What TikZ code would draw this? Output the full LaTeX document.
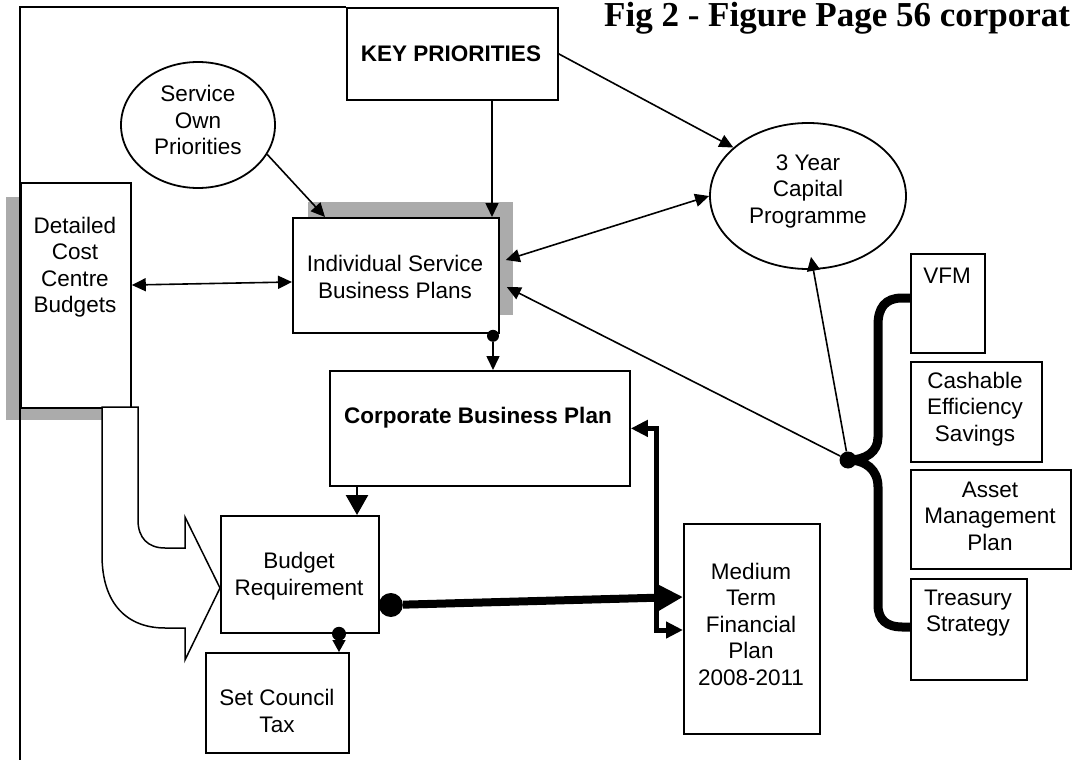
\documentclass[tikz,border=0pt]{standalone}
\usepackage{fontspec}
\setmainfont{Liberation Sans}
\newfontfamily\titleserif{Liberation Serif}
\usetikzlibrary{arrows.meta,shapes.geometric,calc}
\newcommand\diagfont{\fontsize{22.5}{26.5}\selectfont}

\begin{document}
\begin{tikzpicture}[x=1pt,y=-1pt,
  box/.style={draw, line width=1.8pt, fill=white, inner sep=0pt, anchor=north west},
  oval/.style={draw, ellipse, line width=1.8pt, fill=white, inner sep=0pt},
  txt/.style={font=\diagfont, align=center, inner sep=0pt},
  shadowfill/.style={fill=black!33, draw=none},
  arr/.style={line width=1.6pt, -{Triangle[length=14pt,width=13pt]}},
  dbl/.style={line width=1.6pt, {Triangle[length=14pt,width=13pt]}-{Triangle[length=14pt,width=13pt]}},
  dot/.style={circle, fill=black, inner sep=0pt},
]

\useasboundingbox (0,0) rectangle (1072,760);

% heading
\node[anchor=base west, inner sep=0pt, font=\titleserif\bfseries\fontsize{35}{40}\selectfont]
  (title) at (604,27) {Fig 2 - Figure Page 56 corporat};

% drop shadows
\fill[shadowfill] (6,197) rectangle (115,420);
\fill[shadowfill] (308,202) rectangle (513,315);

% outer frame
\draw[line width=1.8pt] (20,760) -- (20,7) -- (346,7);

% boxes
\node[box, minimum width=211pt, minimum height=92pt]  (key)   at (346,7)   {};
\node[box, minimum width=110pt, minimum height=225pt] (det)   at (20,182)  {};
\node[box, minimum width=206pt, minimum height=115pt] (isbp)  at (292,217) {};
\node[box, minimum width=300pt, minimum height=115pt] (cbp)   at (329,370) {};
\node[box, minimum width=158pt, minimum height=117pt] (bud)   at (220,515) {};
\node[box, minimum width=143pt, minimum height=100pt] (stc)   at (205,652) {};
\node[box, minimum width=136pt, minimum height=210pt] (mtfp)  at (683,523) {};
\node[box, minimum width=74pt,  minimum height=99pt]  (vfm)   at (910,253) {};
\node[box, minimum width=131pt, minimum height=100pt] (cash)  at (910,361) {};
\node[box, minimum width=160pt, minimum height=99pt]  (asset) at (910,469) {};
\node[box, minimum width=116pt, minimum height=101pt] (treas) at (910,578) {};

% ovals
\node[oval, minimum width=154pt, minimum height=126pt] (sop) at (198,125) {};
\node[oval, minimum width=196pt, minimum height=146pt] (cap) at (808,196) {};

% labels
\node[txt, font=\diagfont\bfseries] (key-t) at (451,54) {KEY PRIORITIES};
\node[txt] (sop-t)   at (198,120) {Service\\Own\\Priorities};
\node[txt] (cap-t)   at (808,191) {3 Year\\Capital\\Programme};
\node[txt] (det-t)   at (75,267)  {Detailed\\Cost\\Centre\\Budgets};
\node[txt] (isbp-t)  at (395,277) {Individual Service\\Business Plans};
\node[txt, font=\diagfont\bfseries] (cbp-t) at (478,418) {Corporate Business Plan};
\node[txt] (bud-t)   at (299,576) {Budget\\Requirement};
\node[txt] (stc-t)   at (277,711) {Set Council\\Tax};
\node[txt] (mtfp-t)  at (751,624) {Medium\\Term\\Financial\\Plan\\2008-2011};
\node[txt] (vfm-t)   at (947,276) {VFM};
\node[txt] (cash-t)  at (975,409) {Cashable\\Efficiency\\Savings};
\node[txt] (asset-t) at (990,516) {Asset\\Management\\Plan};
\node[txt] (treas-t) at (968,613) {Treasury\\Strategy};

% hollow bent arrow from the cost centre budgets into the budget requirement
\draw[line width=1.5pt, fill=white]
  (102,407) -- (102,555) .. controls (102,605) and (128,628) .. (165,628)
  -- (185,628) -- (185,660) -- (220,588) -- (185,517) -- (185,548)
  -- (165,548) .. controls (148,548) and (138,538) .. (138,520)
  -- (138,407) -- cycle;

% connectors
\coordinate (kx) at (492,0);
\coordinate (ix) at (493,0);
\coordinate (cx) at (357,0);
\coordinate (bx) at (339,0);
\coordinate (mx) at (656,0);

\draw[arr] (key.south -| kx) -- (isbp.north -| kx);
\draw[arr] (sop.-23) -- ($(isbp.north west)+(33,0)$);
\draw[arr] (key.east) -- (cap.147);
\draw[dbl] (cap.west) -- ($(isbp.north east)+(6,43)$);
\draw[dbl] ($(det.north east)+(0,103)$) -- ($(isbp.north west)+(0,65)$);

\node[dot, minimum size=12pt] (d1) at ($(isbp.south -| ix)+(0,2)$) {};
\draw[arr] (d1) -- (cbp.north -| ix);

\draw[line width=2.5pt, -{Triangle[length=20pt,width=22pt]}] (cbp.south -| cx) -- (bud.north -| cx);

\node[dot, minimum size=14pt] (d2) at (bud.south -| bx) {};
\draw[line width=1.6pt, -{Triangle[length=12pt,width=13pt]}] (d2) -- (stc.north -| bx);

\node[dot, minimum size=24pt] (d3) at ($(bud.north east)+(11,90)$) {};
\draw[line width=8pt, -{Triangle[length=26pt,width=26pt]}] (d3) -- ($(mtfp.north west)+(0,74)$);

\coordinate (m2) at ($(mtfp.north west)+(0,107)$);
\draw[line width=5pt, {Triangle[length=17pt,width=16pt]}-{Triangle[length=17pt,width=16pt]}]
  (cbp.east) -| (mx |- m2) -- (m2);

% brace grouping the four value-for-money inputs
\node[dot, minimum size=17pt] (bt) at (848,460) {};
\draw[line width=9pt]
  ($(vfm.north west)+(0,45)$) -- (902,298)
  .. controls (885,298) and (878,308) .. (878,325) -- (878,437)
  .. controls (878,452) and (866,460) .. (bt.center)
  .. controls (866,460) and (878,470) .. (878,487) -- (878,605)
  .. controls (878,620) and (887,627) .. (902,627)
  -- ($(treas.north west)+(0,49)$);

\draw[arr] (bt) -- ($(isbp.north east)+(7,70)$);
\draw[arr] (bt) -- ($(cap.south)+(3,-13)$);

\end{tikzpicture}
\end{document}
